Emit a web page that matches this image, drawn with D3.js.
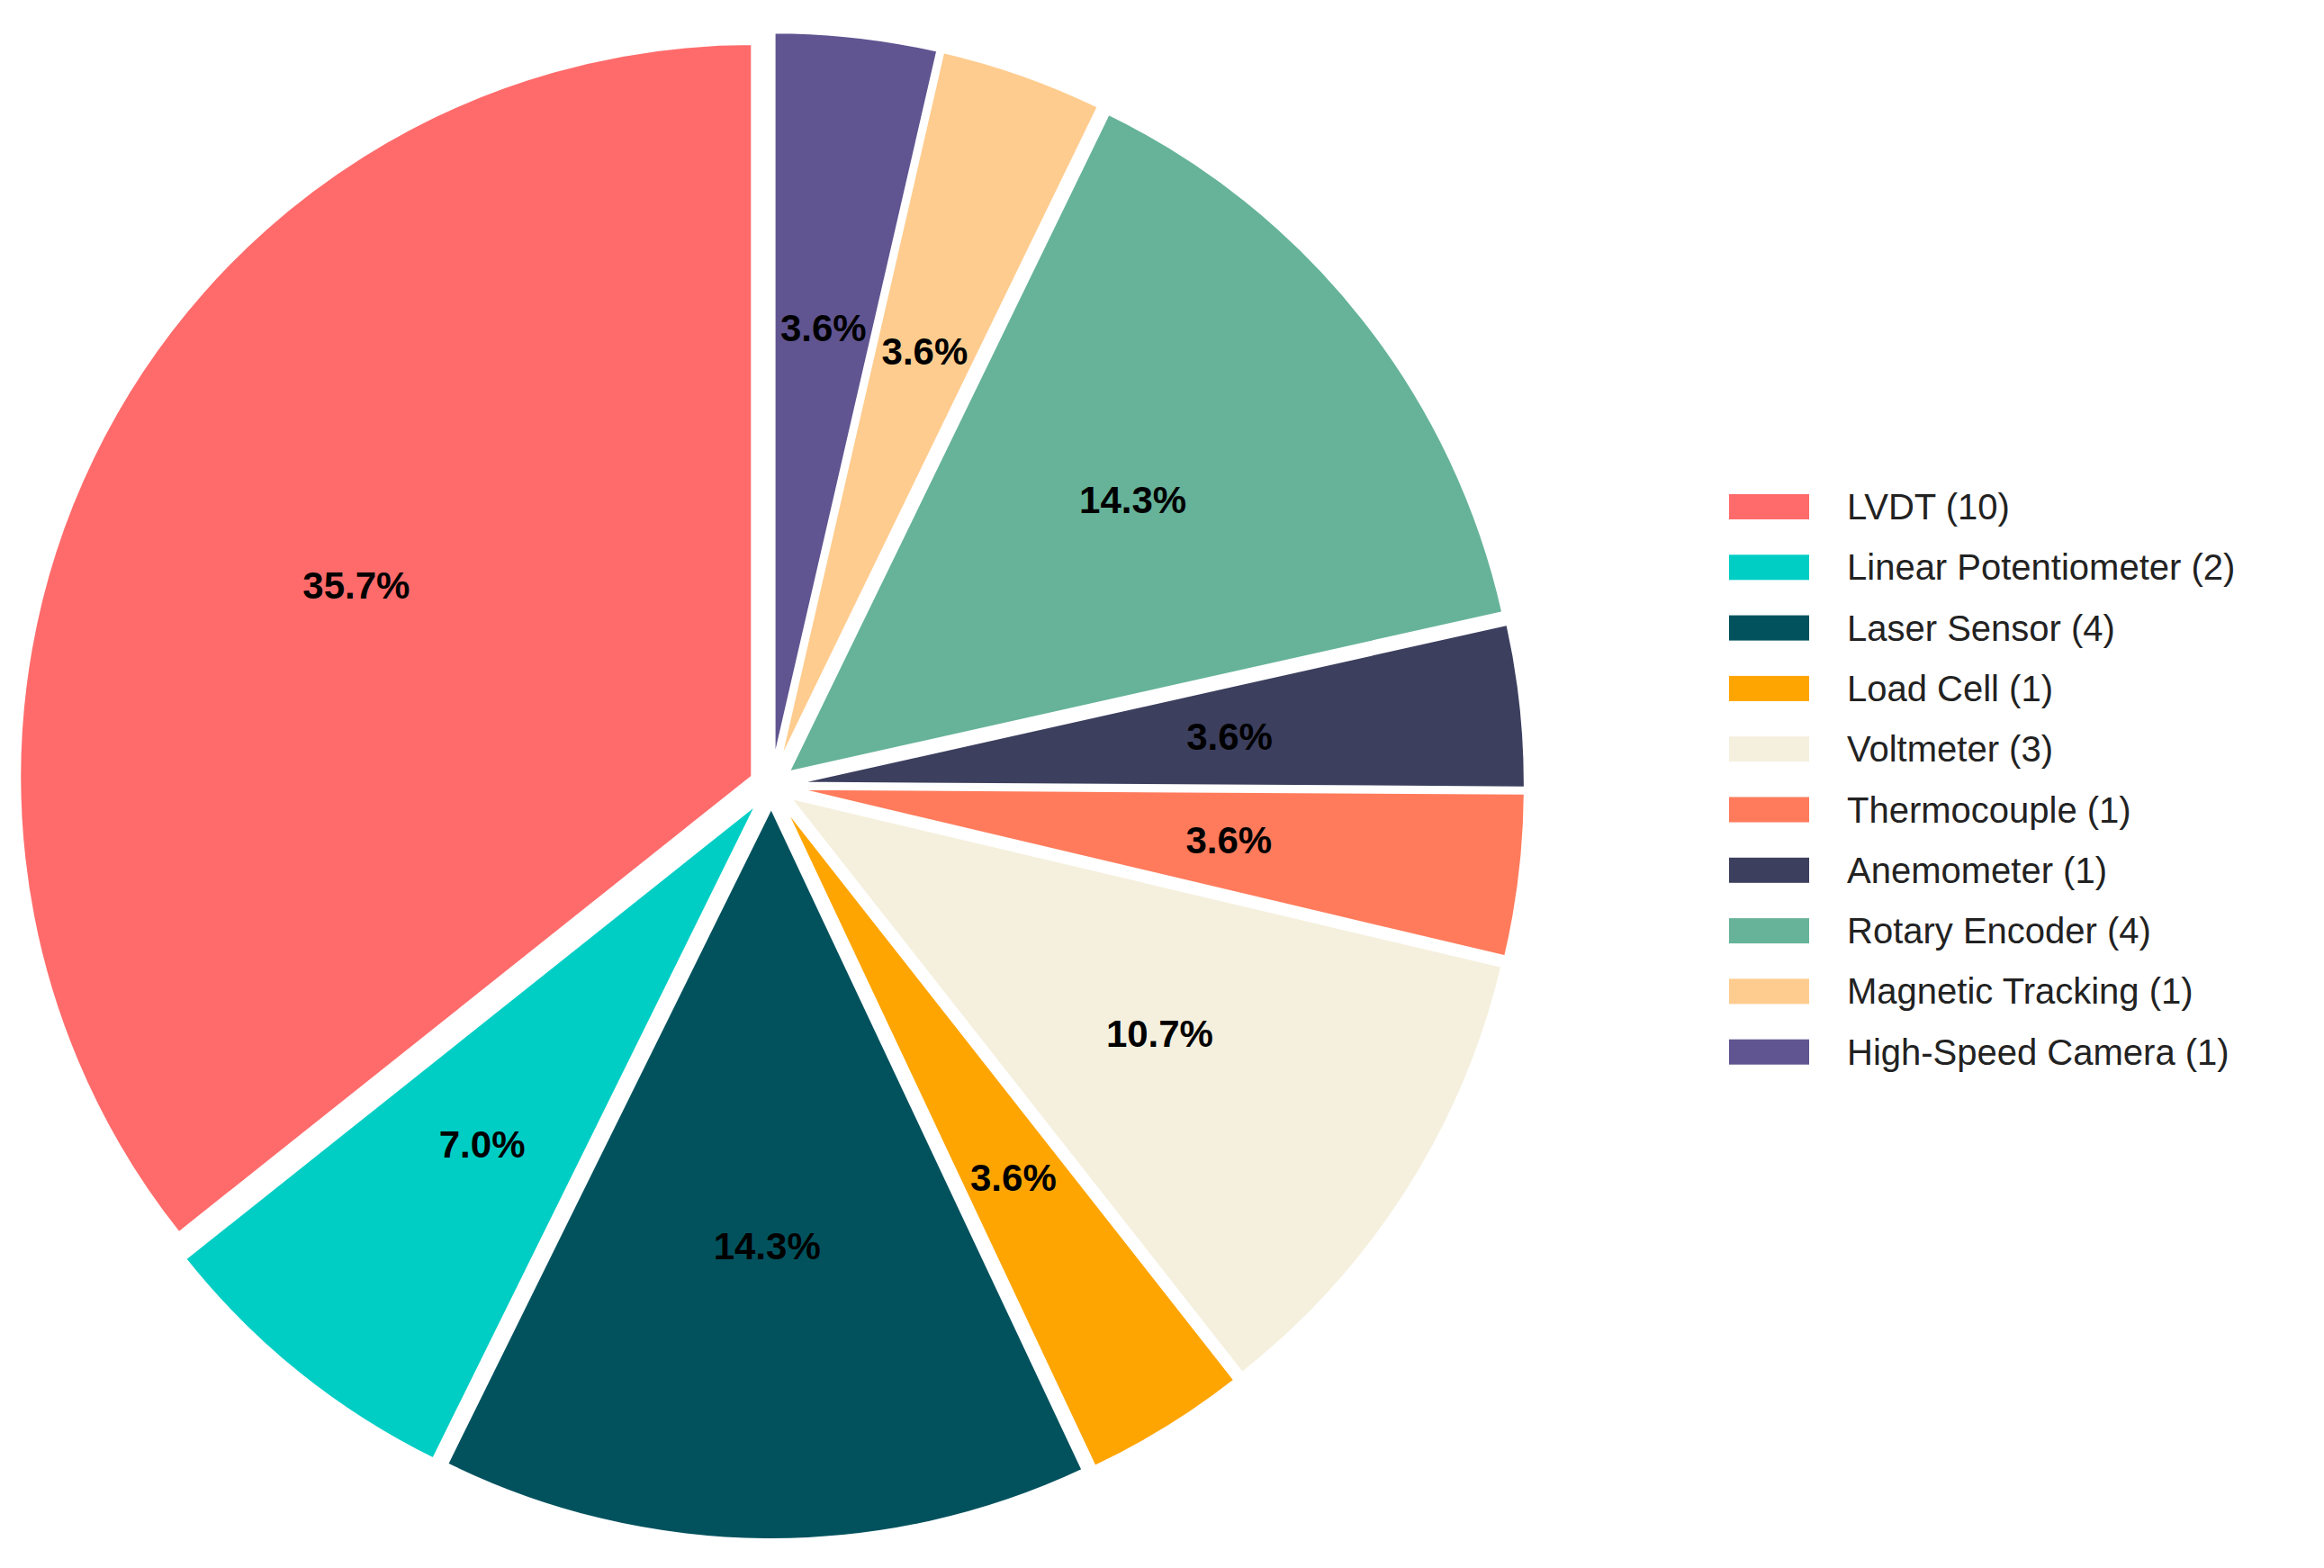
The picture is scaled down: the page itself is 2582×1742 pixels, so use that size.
<!DOCTYPE html>
<html>
<head>
  <meta charset="utf-8">
  <script src="https://d3js.org/d3.v7.min.js"></script>
  <style>body{margin:0;background:#fff;}</style>
</head>
<body>
<script type="text/javascript">
"use strict";
var sensors = ["LVDT (10)", "Linear Potentiometer (2)", "Laser Sensor (4)", "Load Cell (1)",
               "Voltmeter (3)", "Thermocouple (1)", "Anemometer (1)", "Rotary Encoder (4)",
               "Magnetic Tracking (1)", "High-Speed Camera (1)"];
var shares = [35.7, 7.0, 14.3, 3.6, 10.7, 3.6, 3.6, 14.3, 3.6, 3.6];
var colors = ["#FF6B6B", "#00CEC5", "#02525E", "#FFA502", "#F5F0DE",
              "#FF7B5C", "#3C3F5E", "#66B39A", "#FFCC8F", "#605591"];

var width = 2582, height = 1742;
var cx = 857, cy = 873, r = 815, explode = 23;

var svg = d3.select("body").append("svg")
    .attr("width", width).attr("height", height);

// counterclockwise from 12 o'clock, like matplotlib startangle=90
var pie = d3.pie().sort(null).startAngle(0).endAngle(-2 * Math.PI);
var arcs = pie(shares);
var arc = d3.arc().innerRadius(0).outerRadius(r);

var g = svg.append("g").attr("transform", "translate(" + cx + "," + cy + ")");

var slice = g.selectAll("g.slice").data(arcs).enter().append("g")
    .attr("transform", function (d) {
        var a = (d.startAngle + d.endAngle) / 2;
        return "translate(" + (Math.sin(a) * explode) + "," + (-Math.cos(a) * explode) + ")";
    });

slice.append("path")
    .attr("d", arc)
    .style("fill", function (d, i) { return colors[i]; })
    .style("stroke", "#fff")
    .style("stroke-width", 4);

slice.append("text")
    .attr("x", function (d) { return Math.sin((d.startAngle + d.endAngle) / 2) * r * 0.6; })
    .attr("y", function (d) { return -Math.cos((d.startAngle + d.endAngle) / 2) * r * 0.6; })
    .attr("text-anchor", "middle")
    .attr("dominant-baseline", "central")
    .style("font-family", "Liberation Sans, Arial, sans-serif")
    .style("font-weight", "bold")
    .style("font-size", "42px")
    .text(function (d) { return d.data.toFixed(1) + "%"; });

// legend
var legend = svg.append("g").attr("transform", "translate(1921,563)");
var row = legend.selectAll("g").data(sensors).enter().append("g")
    .attr("transform", function (d, i) { return "translate(0," + (i * 67.3) + ")"; });
row.append("rect")
    .attr("x", 0).attr("y", -14).attr("width", 89).attr("height", 28)
    .style("fill", function (d, i) { return colors[i]; });
row.append("text")
    .attr("x", 131).attr("y", 0)
    .attr("dominant-baseline", "central")
    .style("font-family", "Liberation Sans, Arial, sans-serif")
    .style("font-size", "40px")
    .style("fill", "#222")
    .text(function (d) { return d; });
</script>
</body>
</html>
